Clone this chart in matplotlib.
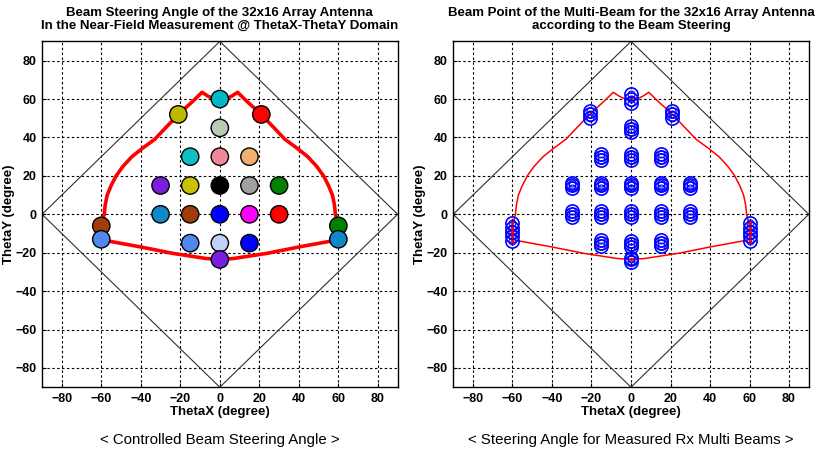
import matplotlib
matplotlib.use("Agg")
import matplotlib.pyplot as plt

# ---------------- data ----------------
# steering beam points (left panel)
beam_x = [0, -21, 21, 0, -15, 0, 15, -30, -15, 0, 15, 30, -30, -15, 0, 15, 30,
          -15, 0, 15, 0, -60, -60, 60, 60]
beam_y = [60, 52, 52, 45, 30, 30, 30, 15, 15, 15, 15, 15, 0, 0, 0, 0, 0,
          -15, -15, -15, -23.5, -6, -13, -6, -13]
beam_colors = ['#00B8C8', '#C0B800', '#FF0000', '#B8CCB4', '#10C0C0', '#F08898',
               '#F0B070', '#7A1FE0', '#C8C000', '#000000', '#A0A0A0', '#008000',
               '#1088C8', '#A03C0A', '#0000FF', '#FF00FF', '#FF0000', '#5088F0',
               '#C0D0F8', '#0000FF', '#7A1FE0', '#A03C0A', '#5088F0', '#008000',
               '#1088C8']

# steering-range contour
contour_x = [-60, -60, -58.5, -58, -57, -55, -52.5, -49, -44.5, -39, -33, -27, -20, -14,
             -9, -6, -3, 0, 3, 6, 9, 14, 20, 27, 33, 39, 44.5, 49, 52.5, 55, 57, 58,
             58.5, 60, 60, 56, 40, 24, 7, 0, -7, -24, -40, -56, -60]
contour_y = [-13, -6, 0, 5, 10, 15, 20, 25, 30, 34.5, 39, 45.5, 53, 58.5,
             63.5, 61.5, 60, 60, 60, 61.5, 63.5, 58.5, 53, 45.5, 39, 34.5, 30, 25, 20, 15, 10, 5,
             0, -6, -13, -14, -17, -20.3, -23, -23.5, -23, -20.3, -17, -14, -13]

# visible region boundary |x|+|y| = 90
diamond_x = [-90, 0, 90, 0, -90]
diamond_y = [0, 90, 0, -90, 0]

# measured Rx multi-beam points (right panel)
meas_x = [0, 0, 0,
          -21, -21, -21, 21, 21, 21,
          0, 0, 0,
          -15, -15, -15, 0, 0, 0, 15, 15, 15,
          -30, -30, -30, -15, -15, -15, 0, 0, 0, 15, 15, 15, 30, 30, 30,
          -30, -30, -30, -15, -15, -15, 0, 0, 0, 15, 15, 15, 30, 30, 30,
          -15, -15, -15, 0, 0, 0, 15, 15, 15,
          0, 0, 0,
          -60, -60, -60, -60, -60,
          60, 60, 60, 60, 60]
meas_y = [58, 60, 62.5,
          50, 52, 54, 50, 52, 54,
          42.8, 44.5, 46.2,
          28.5, 30, 31.5, 28.5, 30, 31.5, 28.5, 30, 31.5,
          13.5, 15, 16.5, 13.5, 15, 16.5, 13.5, 15, 16.5, 13.5, 15, 16.5, 13.5, 15, 16.5,
          -1.5, 0, 1.5, -1.5, 0, 1.5, -1.5, 0, 1.5, -1.5, 0, 1.5, -1.5, 0, 1.5,
          -16.5, -15, -13.5, -17, -15.5, -14, -16.5, -15, -13.5,
          -22.5, -23.5, -24.8,
          -4.7, -6.9, -9, -11.3, -13.9,
          -4.7, -6.9, -9, -11.3, -13.9]
red_dot_x = [-60, -60, -60, -60, -60, 60, 60, 60, 60, 60, 0]
red_dot_y = [-4.7, -6.9, -9, -11.3, -13.9, -4.7, -6.9, -9, -11.3, -13.9, -23.5]

ticks = [-80, -60, -40, -20, 0, 20, 40, 60, 80]

titles = ["Beam Steering Angle of the 32x16 Array Antenna\nIn the Near-Field Measurement @ ThetaX-ThetaY Domain",
          "Beam Point of the Multi-Beam for the 32x16 Array Antenna\naccording to the Beam Steering"]
captions = ["< Controlled Beam Steering Angle >",
            "< Steering Angle for Measured Rx Multi Beams >"]

# ---------------- figure ----------------
plt.rcParams['font.family'] = ['Liberation Sans', 'DejaVu Sans']
fig = plt.figure(figsize=(8.27, 4.55), dpi=100)
ax1 = fig.add_axes([0.0508, 0.149, 0.430, 0.760])
ax2 = fig.add_axes([0.548, 0.149, 0.430, 0.760])

for ax, title, cap in zip([ax1, ax2], titles, captions):
    ax.set_xlim(-90, 90)
    ax.set_ylim(-90, 90)
    ax.set_xticks(ticks)
    ax.set_yticks(ticks)
    ax.grid(True, color='black', linestyle=(0, (2.2, 2.2)), linewidth=0.8)
    ax.set_axisbelow(True)
    ax.tick_params(direction='in', length=3, labelsize=9, pad=4)
    for lab in ax.get_xticklabels() + ax.get_yticklabels():
        lab.set_fontweight('bold')
    for sp in ax.spines.values():
        sp.set_linewidth(1.0)
    ax.set_xlabel('ThetaX (degree)', fontsize=9.5, fontweight='bold', labelpad=1)
    ax.set_ylabel('ThetaY (degree)', fontsize=9.5, fontweight='bold', labelpad=0)
    ax.set_title(title, fontsize=9.5, fontweight='bold', pad=9, linespacing=1.15)
    ax.plot(diamond_x, diamond_y, color='#303030', linewidth=0.8, zorder=2)
    ax.text(0.5, -0.153, cap, transform=ax.transAxes, ha='center', va='center',
            fontsize=10.8)

# left panel
ax1.plot(contour_x, contour_y, color='#FF0000', linewidth=2.6, zorder=3,
         solid_joinstyle='round')
ax1.scatter(beam_x, beam_y, s=12.5**2, c=beam_colors, edgecolors='black',
            linewidths=1.0, zorder=4)

# right panel
ax2.plot(contour_x, contour_y, color='#FF0000', linewidth=1.1, zorder=3)
ax2.plot(meas_x, meas_y, linestyle='none', marker='o', markersize=9.5,
         markerfacecolor='none', markeredgecolor='#0000FF', markeredgewidth=1.2, zorder=4)
ax2.plot(meas_x, meas_y, linestyle='none', marker='o', markersize=5,
         markerfacecolor='none', markeredgecolor='#0000FF', markeredgewidth=0.8, zorder=4)
ax2.plot(red_dot_x, red_dot_y, linestyle='none', marker='.', markersize=3,
         color='#FF0000', zorder=5)

fig.savefig('out.png', dpi=100)
